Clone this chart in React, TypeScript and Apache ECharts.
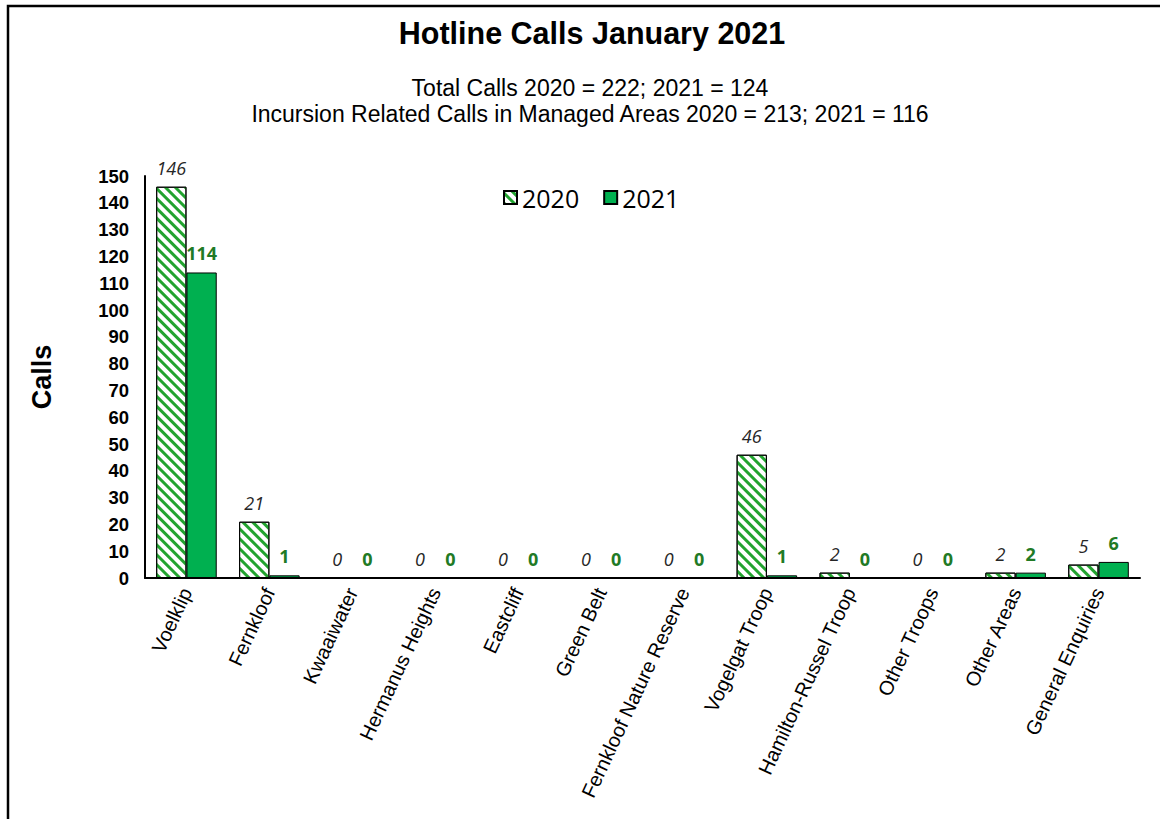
import React, { useEffect, useRef } from "react";
import * as echarts from "echarts";

const categories = [
  "Voelklip",
  "Fernkloof",
  "Kwaaiwater",
  "Hermanus Heights",
  "Eastcliff",
  "Green Belt",
  "Fernkloof Nature Reserve",
  "Vogelgat Troop",
  "Hamilton-Russel Troop",
  "Other Troops",
  "Other Areas",
  "General Enquiries",
];
const values2020 = [146, 21, 0, 0, 0, 0, 0, 46, 2, 0, 2, 5];
const values2021 = [114, 1, 0, 0, 0, 0, 0, 1, 0, 0, 2, 6];
const titleText = "Hotline Calls January 2021";
const subtitleLines = [
  "Total Calls 2020 = 222; 2021 = 124",
  "Incursion Related Calls in Managed Areas 2020 = 213; 2021 = 116",
];

const STRIPE = "#22a32f";
const GREEN = "#00b050";
const LABEL_GREEN = "#217a25";
const ARIAL = "Liberation Sans, Arial, sans-serif";
const CAL = "Open Sans, Noto Sans, sans-serif";

export default function App() {
  const ref = useRef<HTMLDivElement>(null);
  useEffect(() => {
    if (!ref.current) return;
    const chart = echarts.init(ref.current, null, { renderer: "svg" });
    const option: any = {
      animation: false,
      backgroundColor: "#ffffff",
      graphic: [
        {
          type: "rect",
          shape: { x: 8, y: 6, width: 1300, height: 1000 },
          style: { fill: "none", stroke: "#000", lineWidth: 2.5 },
          silent: true,
        },
        {
          type: "text",
          x: 592,
          y: 33,
          style: {
            text: titleText,
            fontFamily: ARIAL,
            fontWeight: "bold",
            fontSize: 30.5,
            fill: "#000",
            textAlign: "center",
            textVerticalAlign: "middle",
          },
        },
        {
          type: "text",
          x: 590,
          y: 88,
          style: {
            text: subtitleLines[0],
            fontFamily: ARIAL,
            fontSize: 23,
            fill: "#000",
            textAlign: "center",
            textVerticalAlign: "middle",
          },
        },
        {
          type: "text",
          x: 590,
          y: 114,
          style: {
            text: subtitleLines[1],
            fontFamily: ARIAL,
            fontSize: 23,
            fill: "#000",
            textAlign: "center",
            textVerticalAlign: "middle",
          },
        },
      ],
      legend: {
        left: 498,
        top: 180,
        itemWidth: 13,
        itemHeight: 13,
        itemGap: 24,
        icon: "rect",
        textStyle: {
          fontFamily: CAL,
          fontSize: 25,
          color: "#000",
        },
        data: ["2020", "2021"],
      },
      grid: { left: 145, right: 20, top: 176, bottom: 241, containLabel: false },
      xAxis: {
        type: "category",
        data: categories,
        axisLine: { lineStyle: { color: "#000", width: 2 } },
        axisTick: { show: false },
        axisLabel: {
          interval: 0,
          rotate: 65,
          margin: 11,
          fontFamily: ARIAL,
          fontSize: 20,
          color: "#000",
        },
      },
      yAxis: {
        type: "value",
        min: 0,
        max: 150,
        interval: 10,
        name: "Calls",
        nameLocation: "middle",
        nameRotate: 90,
        nameGap: 90,
        nameTextStyle: {
          fontFamily: ARIAL,
          fontWeight: "bold",
          fontSize: 27,
          color: "#000",
        },
        axisLine: { show: true, lineStyle: { color: "#000", width: 2 } },
        axisTick: { show: false },
        splitLine: { show: false },
        axisLabel: {
          margin: 16,
          fontFamily: ARIAL,
          fontWeight: "bold",
          fontSize: 18.5,
          color: "#000",
        },
      },
      series: [
        {
          name: "2020",
          type: "bar",
          data: values2020,
          barGap: "0%",
          barCategoryGap: "27%",
          itemStyle: {
            color: "#ffffff",
            borderColor: "#000",
            borderWidth: 1,
            decal: {
              symbol: "rect",
              symbolSize: 1,
              color: STRIPE,
              backgroundColor: "transparent",
              dashArrayX: [1, 0],
              dashArrayY: [3, 4],
              rotation: Math.PI / 4,
            },
          },
          label: {
            show: true,
            position: "top",
            distance: 10,
            fontFamily: CAL,
            fontStyle: "italic",
            fontSize: 18,
            color: "#262626",
          },
        },
        {
          name: "2021",
          type: "bar",
          data: values2021,
          itemStyle: { color: GREEN, borderColor: "#000", borderWidth: 1 },
          label: {
            show: true,
            position: "top",
            distance: 10,
            fontFamily: CAL,
            fontWeight: "bold",
            fontSize: 18,
            color: LABEL_GREEN,
          },
        },
      ],
    };
    chart.setOption(option);
    return () => chart.dispose();
  }, []);
  return (
    <div
      ref={ref}
      style={{ position: "absolute", left: 0, top: 0, width: 1160, height: 819 }}
    />
  );
}
